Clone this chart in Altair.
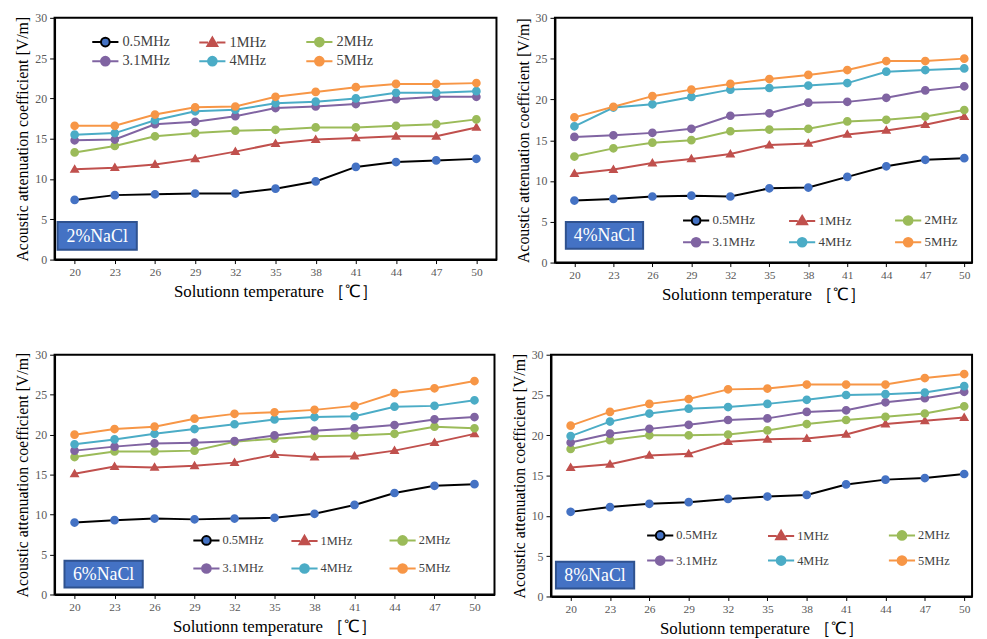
import altair as alt
import pandas as pd

temps = [20, 23, 26, 29, 32, 35, 38, 41, 44, 47, 50]
series = ["0.5MHz", "1MHz", "2MHz", "3.1MHz", "4MHz", "5MHz"]
line_colors = ["#000000", "#C0504D", "#9BBB59", "#8064A2", "#4BACC6", "#F79646"]
marker_colors = ["#4472C4", "#C0504D", "#9BBB59", "#8064A2", "#4BACC6", "#F79646"]

# 2% NaCl
n2_05 = [7.4, 8.0, 8.1, 8.2, 8.2, 8.8, 9.7, 11.5, 12.1, 12.3, 12.5]
n2_1 = [11.2, 11.4, 11.8, 12.5, 13.4, 14.4, 14.9, 15.1, 15.3, 15.3, 16.4]
n2_2 = [13.3, 14.1, 15.3, 15.7, 16.0, 16.1, 16.4, 16.4, 16.6, 16.8, 17.4]
n2_31 = [14.8, 14.9, 16.8, 17.1, 17.8, 18.8, 19.0, 19.3, 19.9, 20.2, 20.2]
n2_4 = [15.5, 15.7, 17.3, 18.4, 18.6, 19.4, 19.6, 20.0, 20.7, 20.7, 20.9]
n2_5 = [16.6, 16.6, 18.0, 18.9, 19.0, 20.2, 20.8, 21.4, 21.8, 21.8, 21.9]

# 4% NaCl
n4_05 = [7.6, 7.8, 8.1, 8.2, 8.1, 9.1, 9.2, 10.5, 11.8, 12.6, 12.8]
n4_1 = [10.9, 11.4, 12.2, 12.7, 13.3, 14.4, 14.6, 15.7, 16.2, 16.9, 17.9]
n4_2 = [13.0, 14.0, 14.7, 15.0, 16.1, 16.3, 16.4, 17.3, 17.5, 17.9, 18.7]
n4_31 = [15.4, 15.6, 15.9, 16.4, 18.0, 18.3, 19.6, 19.7, 20.2, 21.1, 21.6]
n4_4 = [16.7, 19.0, 19.4, 20.3, 21.2, 21.4, 21.7, 22.0, 23.4, 23.6, 23.8]
n4_5 = [17.8, 19.1, 20.4, 21.2, 21.9, 22.5, 23.0, 23.6, 24.7, 24.7, 25.0]

# 6% NaCl
n6_05 = [9.0, 9.3, 9.5, 9.4, 9.5, 9.6, 10.1, 11.2, 12.7, 13.6, 13.8]
n6_1 = [15.1, 16.0, 15.9, 16.1, 16.5, 17.5, 17.2, 17.3, 18.0, 19.0, 20.1]
n6_2 = [17.2, 17.9, 17.9, 18.0, 19.1, 19.5, 19.8, 19.9, 20.1, 21.0, 20.8]
n6_31 = [18.0, 18.5, 18.9, 19.0, 19.2, 19.9, 20.5, 20.8, 21.2, 21.9, 22.2]
n6_4 = [18.8, 19.4, 20.1, 20.7, 21.3, 21.9, 22.2, 22.3, 23.5, 23.6, 24.3]
n6_5 = [20.0, 20.7, 21.0, 22.0, 22.6, 22.8, 23.1, 23.6, 25.2, 25.8, 26.7]

# 8% NaCl
n8_05 = [10.5, 11.1, 11.5, 11.7, 12.1, 12.4, 12.6, 13.9, 14.5, 14.7, 15.2]
n8_1 = [16.0, 16.4, 17.5, 17.7, 19.2, 19.5, 19.6, 20.1, 21.4, 21.8, 22.2]
n8_2 = [18.3, 19.4, 20.0, 20.0, 20.1, 20.6, 21.4, 21.9, 22.3, 22.7, 23.6]
n8_31 = [19.1, 20.2, 20.8, 21.3, 21.9, 22.1, 22.9, 23.1, 24.1, 24.6, 25.4]
n8_4 = [19.9, 21.7, 22.7, 23.3, 23.5, 23.9, 24.4, 25.0, 25.1, 25.3, 26.1]
n8_5 = [21.2, 22.9, 23.9, 24.5, 25.7, 25.8, 26.3, 26.3, 26.3, 27.1, 27.6]

panel_labels = ["2%NaCl", "4%NaCl", "6%NaCl", "8%NaCl"]
y_title = "Acoustic attenuation coefficient [V/m]"
x_title = "Solutionn temperature ［℃］"

SERIF = "Times New Roman, Liberation Serif, serif"
CIRCLE = "M-3.3,0L-1.1,0M1.1,0L3.3,0M1.1,0A1.1,1.1,0,1,1,-1.1,0A1.1,1.1,0,1,1,1.1,0Z"
TRI = "M-3.3,0L-1.1,0M1.1,0L3.3,0M0,-1.3L1.25,0.85L-1.25,0.85Z"
shapes = [CIRCLE, TRI, CIRCLE, CIRCLE, CIRCLE, CIRCLE]


def long_df(cols):
    rows = []
    for s, vals in zip(series, cols):
        for t, v in zip(temps, vals):
            rows.append({"temp": t, "value": v, "series": s})
    return pd.DataFrame(rows)


def panel(cols, label, width, height, xdom, lx, ly, lfs, colpad, rowpad, box):
    df = long_df(cols)
    leg = alt.Legend(
        title=None, orient="none", legendX=lx, legendY=ly, columns=3,
        direction="horizontal", gridAlign="all", columnPadding=colpad,
        rowPadding=rowpad, labelFont=SERIF, labelFontSize=lfs,
        labelColor="#404040", symbolSize=64, symbolStrokeWidth=2,
        labelOffset=10, padding=0,
    )
    x = alt.X("temp:Q", scale=alt.Scale(domain=xdom, nice=False, zero=False),
              axis=alt.Axis(values=temps, title=x_title))
    y = alt.Y("value:Q", scale=alt.Scale(domain=[0, 30], nice=False),
              axis=alt.Axis(values=[0, 5, 10, 15, 20, 25, 30], title=y_title))
    base = alt.Chart(df)
    lines = base.mark_line(strokeWidth=2).encode(
        x=x, y=y,
        stroke=alt.Stroke("series:N", sort=series,
                          scale=alt.Scale(domain=series, range=line_colors), legend=leg),
    )
    pts = base.mark_point(filled=True, size=64, opacity=1).encode(
        x=x, y=y,
        fill=alt.Fill("series:N", sort=series,
                      scale=alt.Scale(domain=series, range=marker_colors), legend=leg),
        shape=alt.Shape("series:N", sort=series,
                        scale=alt.Scale(domain=series, range=shapes), legend=leg),
    )
    bx0, by0, bx1, by1 = box
    lab = alt.Chart(pd.DataFrame({"label": [label]}))
    rect = lab.mark_rect(fill="#4472C4", stroke="#2F528F", strokeWidth=2).encode(
        x=alt.value(bx0), x2=alt.value(bx1), y=alt.value(by0), y2=alt.value(by1))
    txt = lab.mark_text(font=SERIF, fontSize=18, color="white", align="center",
                        baseline="middle").encode(
        text="label:N", x=alt.value((bx0 + bx1) / 2), y=alt.value((by0 + by1) / 2 + 1))
    return alt.layer(lines, pts, rect, txt).properties(width=width, height=height)


p1 = panel([n2_05, n2_1, n2_2, n2_31, n2_4, n2_5], panel_labels[0], 446, 244,
           [18.5, 51.5], 44, 17, 14.5, 25, 1.5, (3, 206, 83, 234))
p2 = panel([n4_05, n4_1, n4_2, n4_31, n4_4, n4_5], panel_labels[1], 421, 247,
           [18.5, 50.6], 136, 198, 13, 30, 5, (11, 206, 89, 233))
p3 = panel([n6_05, n6_1, n6_2, n6_31, n6_4, n6_5], panel_labels[2], 444, 242,
           [18.5, 51.5], 147, 181, 12.5, 24, 10.5, (10, 208, 89, 235))
p4 = panel([n8_05, n8_1, n8_2, n8_31, n8_4, n8_5], panel_labels[3], 425, 244,
           [18.5, 50.6], 104, 176, 12.5, 47, 7.5, (5, 209, 84, 236))

ind = dict(stroke="independent", fill="independent", shape="independent")
row1 = alt.hconcat(p1, p2, spacing=16).resolve_scale(**ind).resolve_legend(**ind)
row2 = alt.hconcat(p3, p4, spacing=14).resolve_scale(**ind).resolve_legend(**ind)

chart = (
    alt.vconcat(row1, row2, spacing=44)
    .resolve_scale(**ind).resolve_legend(**ind)
    .properties(padding={"left": 5, "top": 0, "right": 0, "bottom": 0}, background="white")
    .configure_view(stroke="black", strokeWidth=2)
    .configure_axis(
        grid=False, domainColor="black", domainWidth=2, tickColor="black",
        labelFont=SERIF, labelColor="#595959", titleFont=SERIF, titleColor="black",
        titleFontWeight="normal",
    )
    .configure_axisY(labelFontSize=12, tickSize=5, labelPadding=3, titlePadding=4,
                     titleFontSize=16)
    .configure_axisX(labelFontSize=11.5, tickSize=4, labelPadding=3, titlePadding=6,
                     titleFontSize=17)
)

chart.save("out.html", embed_options={"renderer": "svg", "actions": False})
